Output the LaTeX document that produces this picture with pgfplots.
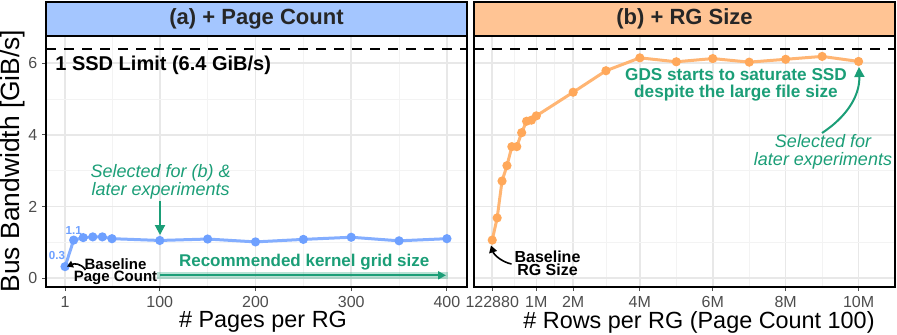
\documentclass[border=0pt]{standalone}
\usepackage{pgfplots}
\pgfplotsset{compat=1.18}
\usepackage{fontspec}
\setmainfont{Liberation Sans}
\usetikzlibrary{arrows.meta}
\definecolor{bstrip}{RGB}{164,198,255}
\definecolor{bpt}{RGB}{110,160,255}
\definecolor{ostrip}{RGB}{255,196,148}
\definecolor{opt}{RGB}{255,168,90}
\definecolor{dgreen}{RGB}{27,158,119}
\definecolor{gridmaj}{RGB}{232,232,232}
\definecolor{gridmin}{RGB}{243,243,243}
\definecolor{tickc}{RGB}{77,77,77}
\pgfplotsset{
  panel/.style={
    scale only axis, width=210.5pt, height=125.5pt,
    ymin=-0.25, ymax=6.76,
    ytick={0,2,4,6}, minor ytick={1,3,5},
    grid=both,
    major grid style={gridmaj, line width=0.8pt},
    minor grid style={gridmin, line width=0.45pt},
    axis line style={black, line width=0.7pt},
    tick align=outside, major tick length=2pt, minor tick length=0pt,
    tick style={tickc, line width=0.5pt},
    xtick pos=bottom, ytick pos=left,
    ticklabel style={font=\fontsize{8}{8}\selectfont, text=tickc},
    xticklabel style={inner sep=0pt, anchor=north, yshift=-2.6pt},
    yticklabel style={inner sep=0pt, anchor=east, xshift=-2.2pt},
    /pgf/number format/assume math mode=true,
    clip=false,
  }
}
\begin{document}
\begin{tikzpicture}
\useasboundingbox (0,0) rectangle (448.5pt,-167pt);
% ---------- panel (a)
\begin{axis}[panel, at={(23pt,-143.5pt)}, anchor=south west,
  xmin=-18.9, xmax=421,
  xtick={1,100,200,300,400}, minor xtick={50.5,150,250,350},
  yticklabels={0,2,4,6}]
\addplot[black, line width=1pt, dash pattern=on 5pt off 4pt] coordinates {(-18.9,6.4) (421,6.4)};
\addplot[bpt!85!white, line width=1.5pt, mark=*, mark size=1.5pt,
  mark options={fill=bpt, draw=bpt}] table {
x y
1 0.32
10 1.06
20 1.13
30 1.15
40 1.15
50 1.10
100 1.05
150 1.09
200 1.01
250 1.08
300 1.14
350 1.04
400 1.10
};
\end{axis}
% ---------- panel (b)
\begin{axis}[panel, at={(237pt,-143.5pt)}, anchor=south west,
  xmin=-0.55, xmax=11.0,
  xtick={-0.05,1.16,2.17,4,6,8,10},
  xticklabels={122880,1M,2M,4M,6M,8M,10M},
  minor xtick={0.555,1.665,3.085,5,7,9},
  yticklabels={}, ytick style={draw=none}]
\addplot[black, line width=1pt, dash pattern=on 5pt off 4pt] coordinates {(-0.55,6.4) (11.0,6.4)};
\addplot[opt!85!white, line width=1.5pt, mark=*, mark size=1.5pt,
  mark options={fill=opt, draw=opt}] table {
x y
-0.05 1.06
0.085 1.68
0.219 2.71
0.354 3.14
0.488 3.67
0.623 3.67
0.757 4.06
0.892 4.38
1.026 4.41
1.16 4.53
2.17 5.19
3.07 5.79
4 6.15
5 6.04
6 6.13
7 6.03
8 6.11
9 6.19
10 6.05
};
\end{axis}
% ---------- overlays in pixel units
\begin{scope}[x=0.5pt, y=-0.5pt, every node/.style={inner sep=0pt}]
\draw[black, line width=0.7pt, fill=bstrip] (46,2) rectangle (467,36);
\draw[black, line width=0.7pt, fill=ostrip] (474,2) rectangle (895,36);
\node[font=\fontsize{11}{11}\selectfont\bfseries, text=black!85] at (256.5,19) {(a) + Page Count};
\node[font=\fontsize{11}{11}\selectfont\bfseries, text=black!85] at (684.5,19) {(b) + RG Size};
% axis titles
\node[rotate=90, font=\fontsize{13.2}{13.2}\selectfont] at (12.5,161) {Bus Bandwidth [GiB/s]};
\node[font=\fontsize{11.7}{11.7}\selectfont] at (263,322) {\# Pages per RG};
\node[font=\fontsize{11.7}{11.7}\selectfont] at (699,322) {\# Rows per RG (Page Count 100)};
% panel (a) annotations
\node[anchor=west, font=\fontsize{10}{10}\selectfont\bfseries] at (55,65) {1 SSD Limit (6.4 GiB/s)};
\node[align=center, text=dgreen, font=\fontsize{9}{8.7}\selectfont\itshape] at (160.7,182) {Selected for (b) \&\\later experiments};
\draw[dgreen, line width=1pt, -{Triangle[length=5pt, width=5pt]}] (160,201) -- (160,235);
\node[text=dgreen, font=\fontsize{8.5}{8.5}\selectfont\bfseries] at (304.2,261.7) {Recommended kernel grid size};
\draw[dgreen, opacity=0.3, line width=3.3pt] (157,275.3) -- (448,275.3);
\draw[dgreen, line width=1.1pt, -{Triangle[length=4pt, width=4pt]}] (160,275.3) -- (446,275.3);
\node[align=center, font=\fontsize{7.5}{6}\selectfont\bfseries] at (115.5,271.5) {Baseline\\Page Count};
\draw[black, line width=0.8pt, -{Triangle[length=3pt, width=3.5pt]}] (85.5,270) .. controls (81,263) and (74,263.5) .. (67,266.5);
\node[text=bpt, font=\fontsize{5.8}{5.8}\selectfont\bfseries] at (57,256) {0.3};
\node[text=bpt, font=\fontsize{5.8}{5.8}\selectfont\bfseries] at (73.7,230) {1.1};
% panel (b) annotations
\node[align=center, text=dgreen, font=\fontsize{8.6}{8.5}\selectfont\bfseries] at (736,84.5) {GDS starts to saturate SSD\\despite the large file size};
\node[align=center, text=dgreen, font=\fontsize{9}{8.85}\selectfont\itshape] at (823,152) {Selected for\\later experiments};
\draw[dgreen, line width=1pt, -{Triangle[length=5pt, width=5pt]}] (822,133) .. controls (845,118) and (860,97) .. (859,67);
\node[align=center, font=\fontsize{8}{6.65}\selectfont\bfseries] at (547.5,263) {Baseline\\RG Size};
\draw[black, line width=0.8pt, -{Triangle[length=3.5pt, width=4pt]}] (511.5,264) .. controls (502,262) and (494,255) .. (491,245.5);
\end{scope}
\end{tikzpicture}
\end{document}
